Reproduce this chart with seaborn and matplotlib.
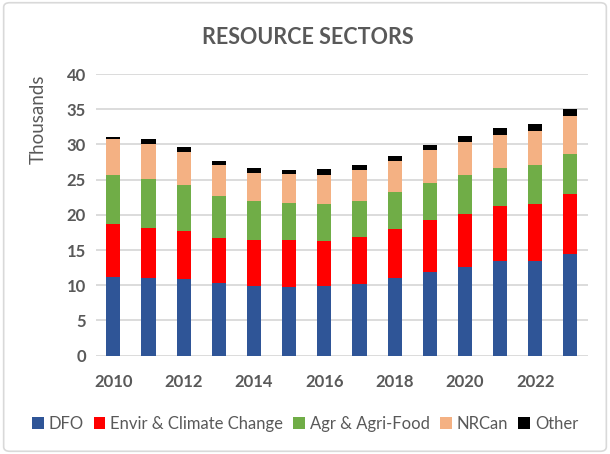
import numpy as np
import pandas as pd
import matplotlib
matplotlib.use("Agg")
import matplotlib.pyplot as plt
import seaborn as sns
from matplotlib.patches import Patch, FancyBboxPatch

# -----------------------------
# Data (thousands)
# -----------------------------
years = list(range(2010, 2024))
sectors = ["DFO", "Envir & Climate Change", "Agr & Agri-Food", "NRCan", "Other"]
dfo = [11.2, 11.0, 10.9, 10.3, 9.9, 9.7, 9.9, 10.2, 11.0, 11.9, 12.6, 13.5, 13.5, 14.5]
envir = [7.5, 7.1, 6.8, 6.4, 6.6, 6.7, 6.4, 6.7, 7.0, 7.3, 7.5, 7.7, 8.0, 8.5]
agr = [7.0, 7.0, 6.5, 6.0, 5.4, 5.3, 5.3, 5.1, 5.3, 5.3, 5.6, 5.5, 5.6, 5.7]
nrcan = [5.0, 5.0, 4.7, 4.4, 4.1, 4.1, 4.1, 4.3, 4.4, 4.7, 4.7, 4.7, 4.8, 5.3]
other = [0.4, 0.6, 0.7, 0.6, 0.7, 0.6, 0.8, 0.8, 0.7, 0.7, 0.8, 1.0, 1.0, 1.0]
colors = ["#2F5597", "#FF0000", "#70AD47", "#F4B183", "#000000"]

sns.set_style("white")
plt.rcParams["font.family"] = ["Lato", "DejaVu Sans"]
GREY = "#595959"

df = pd.DataFrame({"Year": years, "DFO": dfo, "Envir & Climate Change": envir,
                   "Agr & Agri-Food": agr, "NRCan": nrcan, "Other": other})
cum = df[sectors].cumsum(axis=1)
cum["Year"] = df["Year"].astype(str)

fig = plt.figure(figsize=(6.1, 4.54), dpi=100)
ax = fig.add_axes([0.157, 0.2165, 0.807, 0.6205])

# stacked bars: draw cumulative totals from the top layer down
for sec, col in zip(sectors[::-1], colors[::-1]):
    sns.barplot(data=cum, x="Year", y=sec, color=col, width=0.4,
                linewidth=0, saturation=1, ax=ax, zorder=3)

ax.set_ylim(0, 40)
ax.set_yticks(range(0, 41, 5))
ax.set_xlim(-0.5, len(years) - 0.5)
ax.grid(axis="y", color="#D9D9D9", linewidth=1.3, zorder=0)
ax.set_axisbelow(True)
for s in ax.spines.values():
    s.set_visible(False)
ax.tick_params(length=0, labelsize=12, labelcolor=GREY, pad=7)
ax.set_xticks(range(len(years)))
ax.set_xticklabels([str(y) if i % 2 == 0 else "" for i, y in enumerate(years)],
                   fontweight="bold")
for lbl in ax.get_yticklabels():
    lbl.set_fontweight("bold")
ax.tick_params(axis="x", pad=13)
ax.set_xlabel("")
ax.set_ylabel("Thousands", fontsize=13.5, color=GREY)
ax.yaxis.set_label_coords(-0.1, 0.84)

fig.suptitle("RESOURCE SECTORS", x=0.505, y=0.94, fontsize=15.5,
             fontweight="bold", color=GREY)

handles = [Patch(facecolor=c, edgecolor="none") for c in colors]
fig.legend(handles, sectors, loc="center", bbox_to_anchor=(0.5, 0.066), ncol=5,
           frameon=False, fontsize=12, handlelength=0.7, handleheight=0.7,
           handletextpad=0.3, columnspacing=0.6, labelcolor=GREY)

border = FancyBboxPatch((0.006, 0.006), 0.988, 0.988, boxstyle="round,pad=0,rounding_size=0.01",
                        transform=fig.transFigure, facecolor="none",
                        edgecolor="#D9D9D9", linewidth=1.2)
fig.patches.append(border)

fig.savefig("out.png", dpi=100)
